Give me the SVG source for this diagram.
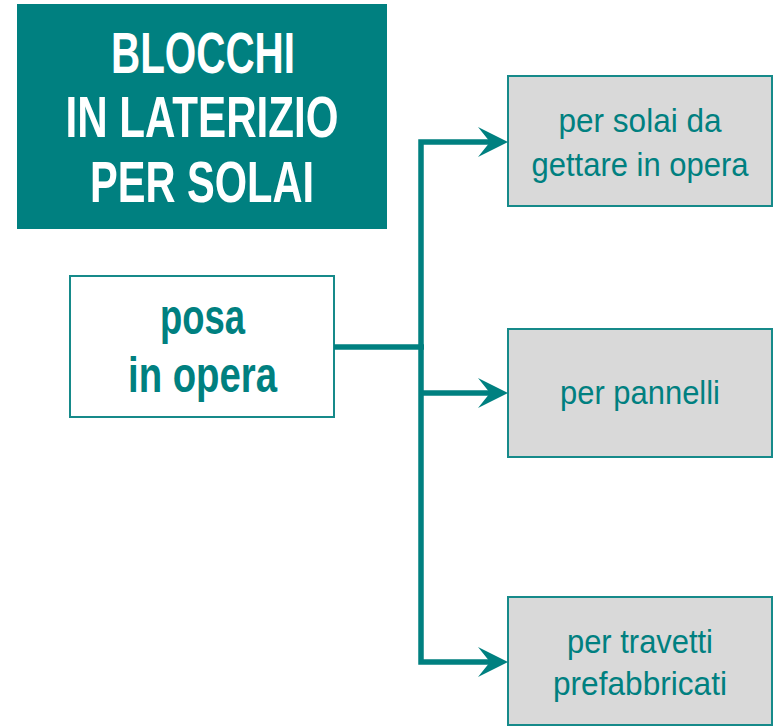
<svg xmlns="http://www.w3.org/2000/svg" width="775" height="726" viewBox="0 0 775 726">
<style>
.title{font-family:"Liberation Sans",Arial,sans-serif;font-weight:bold;font-size:57px;fill:#ffffff;text-anchor:middle}
.box{fill:#d9d9d9;stroke:#168a8a;stroke-width:2}
.lbox{fill:#ffffff;stroke:#168a8a;stroke-width:2}
.t{font-family:"Liberation Sans",Arial,sans-serif;font-size:33px;fill:#008080;text-anchor:middle}
.tb{font-family:"Liberation Sans",Arial,sans-serif;font-weight:bold;font-size:50px;fill:#008080;text-anchor:middle}
.conn{fill:none;stroke:#008080;stroke-width:5.5;stroke-linejoin:miter;stroke-linecap:butt}
.head{fill:#008080;stroke:none}
</style>
<defs>
<path id="ah" d="M0,0 L-30,-15 L-18,0 L-30,15 Z"/>
</defs>
<g id="title">
<rect x="17" y="4" width="370" height="225" fill="#008080"/>
<text class="title" x="203" y="73" textLength="184" lengthAdjust="spacingAndGlyphs">BLOCCHI</text>
<text class="title" x="202" y="137" textLength="273" lengthAdjust="spacingAndGlyphs">IN LATERIZIO</text>
<text class="title" x="202" y="202" textLength="224" lengthAdjust="spacingAndGlyphs">PER SOLAI</text>
</g>
<g id="posa">
<rect class="lbox" x="70" y="276" width="264" height="141"/>
<text class="tb" x="202.5" y="334" textLength="85" lengthAdjust="spacingAndGlyphs">posa</text>
<text class="tb" x="202.5" y="392" textLength="149" lengthAdjust="spacingAndGlyphs">in opera</text>
</g>
<g id="gettare">
<rect class="box" x="508" y="76" width="264" height="130"/>
<text class="t" x="640" y="132" textLength="163" lengthAdjust="spacingAndGlyphs">per solai da</text>
<text class="t" x="640" y="176" textLength="217" lengthAdjust="spacingAndGlyphs">gettare in opera</text>
</g>
<g id="pannelli">
<rect class="box" x="508" y="329" width="264" height="128"/>
<text class="t" x="640" y="404" textLength="160" lengthAdjust="spacingAndGlyphs">per pannelli</text>
</g>
<g id="travetti">
<rect class="box" x="508" y="597" width="264" height="128"/>
<text class="t" x="640" y="653" textLength="146" lengthAdjust="spacingAndGlyphs">per travetti</text>
<text class="t" x="640" y="695" textLength="174" lengthAdjust="spacingAndGlyphs">prefabbricati</text>
</g>
<g id="connectors">
<path class="conn" d="M334,347 H424"/>
<path class="conn" d="M492,142 H421 V662 H492"/>
<path class="conn" d="M421,393 H492"/>
<use href="#ah" class="head" x="508" y="142"/>
<use href="#ah" class="head" x="508" y="393"/>
<use href="#ah" class="head" x="508" y="662"/>
</g>
</svg>
